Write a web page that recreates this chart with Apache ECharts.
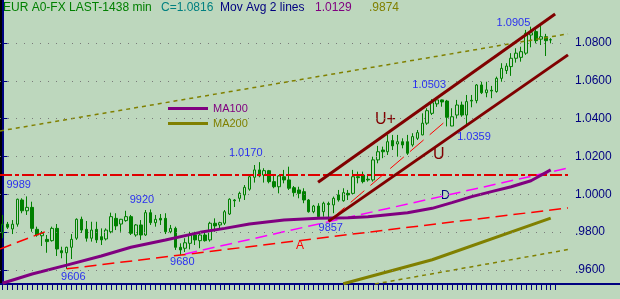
<!DOCTYPE html>
<html>
<head>
<meta charset="utf-8">
<script src="https://cdn.jsdelivr.net/npm/echarts@6.0.0/dist/echarts.min.js"></script>
<style>
html,body{margin:0;padding:0;background:#bdd7bd;overflow:hidden;}
#chart{width:620px;height:299px;}
</style>
</head>
<body>
<div id="chart"></div>
<script>
// ---------------- data (EUR A0-FX, daily bars) ----------------
const opens = [0.9797,0.9842,0.9817,0.9842,0.9970,0.9913,0.9931,0.9815,0.9781,0.9762,
0.9755,0.9820,0.9702,0.9691,0.9720,0.9768,0.9868,0.9815,0.9768,0.9815,
0.9776,0.9764,0.9802,0.9873,0.9843,0.9861,0.9882,0.9785,0.9838,0.9785,
0.9903,0.9850,0.9873,0.9873,0.9802,0.9820,0.9720,0.9715,0.9741,0.9785,
0.9755,0.9785,0.9759,0.9847,0.9838,0.9847,0.9896,0.9970,0.9979,0.9997,
1.0027,1.0090,1.0129,1.0102,1.0125,1.0067,1.0040,1.0093,1.0076,1.0035,
1.0023,1.0014,0.9970,0.9908,0.9938,0.9908,0.9951,0.9944,0.9997,0.9966,
1.0005,1.0005,1.0093,1.0102,1.0080,1.0076,1.0182,1.0234,1.0225,1.0284,
1.0266,1.0278,1.0278,1.0261,1.0296,1.0314,1.0376,1.0428,1.0478,1.0499,
1.0493,1.0361,1.0419,1.0472,1.0419,1.0497,1.0495,1.0578,1.0537,1.0550,
1.0543,1.0613,1.0654,1.0675,1.0719,1.0724,1.0746,1.0842,1.0860,1.0820,
1.0833,1.0817];
const closes = [0.9842,0.9826,0.9842,0.9974,0.9913,0.9931,0.9820,0.9785,0.9794,0.9750,
0.9820,0.9711,0.9691,0.9720,0.9762,0.9868,0.9811,0.9768,0.9811,0.9759,
0.9759,0.9811,0.9882,0.9833,0.9868,0.9882,0.9794,0.9838,0.9785,0.9903,
0.9850,0.9868,0.9864,0.9802,0.9820,0.9720,0.9706,0.9744,0.9785,0.9759,
0.9785,0.9755,0.9847,0.9833,0.9850,0.9908,0.9974,0.9966,1.0005,1.0037,
1.0093,1.0129,1.0097,1.0125,1.0067,1.0040,1.0097,1.0076,1.0032,1.0009,
1.0005,0.9970,0.9908,0.9938,0.9882,0.9953,0.9946,0.9979,0.9970,1.0009,
0.9997,1.0093,1.0088,1.0067,1.0076,1.0182,1.0225,1.0225,1.0278,1.0256,
1.0278,1.0261,1.0217,1.0305,1.0326,1.0376,1.0442,1.0484,1.0499,1.0488,
1.0407,1.0410,1.0472,1.0419,1.0490,1.0493,1.0578,1.0537,1.0552,1.0546,
1.0613,1.0666,1.0678,1.0719,1.0746,1.0754,1.0851,1.0854,1.0812,1.0833,
1.0812,1.0816];
const lows = [0.9768,0.9817,0.9790,0.9829,0.9900,0.9891,0.9802,0.9776,0.9727,0.9691,
0.9750,0.9674,0.9662,0.9606,0.9658,0.9759,0.9796,0.9750,0.9750,0.9743,
0.9732,0.9756,0.9794,0.9811,0.9802,0.9855,0.9785,0.9776,0.9759,0.9780,
0.9838,0.9829,0.9838,0.9790,0.9794,0.9706,0.9680,0.9695,0.9709,0.9732,
0.9715,0.9750,0.9750,0.9802,0.9820,0.9838,0.9891,0.9933,0.9961,0.9970,
1.0019,1.0062,1.0090,1.0062,1.0058,1.0032,1.0005,1.0058,1.0023,0.9988,
0.9979,0.9953,0.9903,0.9900,0.9873,0.9882,0.9857,0.9900,0.9961,0.9961,
0.9970,0.9997,1.0058,1.0058,1.0067,1.0067,1.0164,1.0191,1.0208,1.0234,
1.0199,1.0243,1.0208,1.0252,1.0287,1.0312,1.0367,1.0419,1.0462,1.0463,
1.0359,1.0360,1.0402,1.0410,1.0367,1.0460,1.0481,1.0530,1.0513,1.0508,
1.0537,1.0595,1.0636,1.0626,1.0696,1.0701,1.0737,1.0777,1.0798,1.0789,
1.0731,1.0798];
const highs = [0.9891,0.9854,0.9864,0.9977,0.9979,0.9989,0.9961,0.9829,0.9806,0.9785,
0.9829,0.9843,0.9723,0.9723,0.9790,0.9873,0.9882,0.9859,0.9855,0.9855,
0.9820,0.9820,0.9903,0.9900,0.9870,0.9913,0.9891,0.9843,0.9864,0.9917,
0.9920,0.9891,0.9896,0.9900,0.9838,0.9829,0.9741,0.9768,0.9802,0.9802,
0.9802,0.9811,0.9855,0.9873,0.9855,0.9917,0.9979,0.9975,1.0014,1.0049,
1.0102,1.0155,1.0170,1.0138,1.0129,1.0102,1.0102,1.0129,1.0146,1.0044,
1.0040,1.0032,0.9975,0.9944,0.9953,0.9961,0.9961,0.9988,1.0023,1.0032,
1.0023,1.0129,1.0120,1.0120,1.0102,1.0199,1.0256,1.0252,1.0314,1.0314,
1.0314,1.0296,1.0314,1.0323,1.0340,1.0428,1.0455,1.0503,1.0501,1.0501,
1.0499,1.0455,1.0499,1.0490,1.0525,1.0525,1.0583,1.0595,1.0595,1.0573,
1.0622,1.0693,1.0693,1.0746,1.0772,1.0780,1.0869,1.0886,1.0872,1.0905,
1.0848,1.0825];

// moving averages (key points: bar index, value)
const ma100Idx = [0,6,13,20,26,33,40,45,50,57,64,70,74,82,87,91,95,99,103,107,111];
const ma100Val = [0.9530,0.9579,0.9626,0.9674,0.9720,0.9759,0.9799,0.9820,0.9843,0.9864,0.9873,
                  0.9876,0.9882,0.9903,0.9926,0.9956,0.9988,1.0014,1.0040,1.0072,1.0129];
const ma200Idx = [69,87,111];
const ma200Val = [0.9527,0.9654,0.9874];

// drawn trend lines (bar index, value)
const chanUpperIdx = [63.9,111.9],  chanUpperVal = [1.0064,1.0953];   // U+
const chanLowerIdx = [66,114.5],    chanLowerVal = [0.9857,1.0737];   // U
const chanMidIdx   = [66.5,90],     chanMidVal   = [0.9868,1.0393];
const lineAIdx     = [13,114.5],    lineAVal     = [0.9606,0.9928];   // A
const lineLeftIdx  = [-0.5,9],      lineLeftVal  = [0.9711,0.9806];
const lineDIdx     = [37,114.5],    lineDVal     = [0.9685,1.0139];   // D
const resistIdx    = [-0.5,114.5],  resistVal    = [1.0102,1.0102];
const envUpIdx     = [-0.5,114.5],  envUpVal     = [1.0335,1.0848];
const envLoIdx     = [75.4,114.5],  envLoVal     = [0.9526,0.9708];

// swing annotations
const annIdx = [5,13,30,36,52,66,87,90,109];
const annVal = [0.9989,0.9606,0.9920,0.9680,1.0170,0.9857,1.0503,1.0359,1.0905];

const yTicks = [0.96,0.98,1.00,1.02,1.04,1.06,1.08];
const nSlots = 115;
const categories = Array.from({length:nSlots},(_,i)=>String(i+1));

// ---------------- styles ----------------
const FONT = "'Liberation Sans', Arial, sans-serif";
const BG = '#bdd7bd';
const NAVY = '#000080';
const annOffsets = [[-8.5,-11.7],[6.6,8.6],[-8.7,-9.8],[2,7.6],[-13.6,-9.2],[2.3,6.6],[-3,-14],[27,10.6],[-27.4,-0.6]];

function fmtAxis(v){ const s=v.toFixed(4); return v<1 ? s.replace(/^0/,'') : s; }
function fmtAnn(v){ const s=v.toFixed(4); return v<1 ? s.slice(2) : s; }
function pairs(xs, ys){ return xs.map((x,i)=>[x, ys[i]]); }
function trend(name, xs, ys, color, width, type, z){
  return {type:'line', name, xAxisIndex:1, yAxisIndex:0, data:pairs(xs,ys), symbol:'none',
          silent:true, animation:false, z:z||3, lineStyle:{color, width, type}};
}

const candleData = opens.map((o,i)=>[o, closes[i], lows[i], highs[i]]);
const lastClose = closes[closes.length-1];
const lastMa100 = ma100Val[ma100Val.length-1];
const lastMa200 = ma200Val[ma200Val.length-1];

const chart = echarts.init(document.getElementById('chart'), null, {renderer:'canvas'});

const option = {
  backgroundColor: BG,
  animation: false,
  textStyle: {fontFamily: FONT},
  grid: {left:0, right:52, top:0, bottom:15, containLabel:false},
  legend: {
    show:true, orient:'vertical', left:168, top:103, padding:0, itemGap:4,
    itemWidth:40, itemHeight:3, icon:'rect', selectedMode:false,
    textStyle:{fontSize:11, fontFamily:FONT},
    data:[{name:'MA100', textStyle:{color:'#800080'}}, {name:'MA200', textStyle:{color:'#808000'}}]
  },
  xAxis: [
    {type:'category', data:categories, boundaryGap:true,
     axisLine:{show:true, onZero:false, lineStyle:{color:NAVY, width:2}},
     axisTick:{show:true, alignWithLabel:true, length:6, lineStyle:{color:NAVY, width:1},
               interval:(i)=> i < 113},
     axisLabel:{show:false}, splitLine:{show:false}},
    {type:'value', min:-0.5, max:nSlots-0.5, show:false}
  ],
  yAxis: [{
    type:'value', position:'right', min:0.9526, max:1.1027, scale:true,
    axisLine:{show:true, lineStyle:{color:NAVY, width:2}},
    axisTick:{show:true, length:5, customValues:yTicks, lineStyle:{color:NAVY}},
    axisLabel:{show:true, customValues:yTicks, formatter:fmtAxis, color:NAVY, fontSize:12, margin:7, fontFamily:FONT},
    splitLine:{show:false}
  }],
  series: [
    {type:'line', name:'grid', data:[], silent:true, z:1,
     markLine:{silent:true, symbol:['none','none'], label:{show:false}, animation:false,
       lineStyle:{color:'#7a7a7a', type:[1,7], width:1},
       data: yTicks.map(v=>({yAxis:v}))}},
    {type:'candlestick', name:'EUR', data:candleData, barWidth:3, silent:true, z:2,
     itemStyle:{color:'rgba(0,0,0,0)', color0:'#008000', borderColor:'#008000', borderColor0:'#008000', borderWidth:1}},
    trend('envUp', envUpIdx, envUpVal, '#808000', 1.5, [4,4], 3),
    trend('envLo', envLoIdx, envLoVal, '#808000', 1.5, [4,4], 3),
    trend('resist', resistIdx, resistVal, '#e00000', 2, [12,3,4,3], 3),
    trend('lineLeft', lineLeftIdx, lineLeftVal, '#ff0000', 1.5, [12,6], 3),
    trend('lineA', lineAIdx, lineAVal, '#ff0000', 1.5, [12,6], 3),
    trend('lineD', lineDIdx, lineDVal, '#ff00ff', 1.5, [12,6], 3),
    trend('chanMid', chanMidIdx, chanMidVal, '#ff0000', 1, [18,8], 3),
    {type:'line', name:'MA100', xAxisIndex:1, data:pairs(ma100Idx, ma100Val), symbol:'none', silent:true, z:4,
     lineStyle:{color:'#800080', width:3}, itemStyle:{color:'#800080'}},
    {type:'line', name:'MA200', xAxisIndex:1, data:pairs(ma200Idx, ma200Val), symbol:'none', silent:true, z:4,
     lineStyle:{color:'#808000', width:3}, itemStyle:{color:'#808000'}},
    trend('chanUpper', chanUpperIdx, chanUpperVal, '#800000', 3, 'solid', 5),
    trend('chanLower', chanLowerIdx, chanLowerVal, '#800000', 3, 'solid', 5),
    {type:'scatter', name:'ann', silent:true, z:6, symbolSize:1, itemStyle:{color:'rgba(0,0,0,0)'},
     data: annIdx.map((x,i)=>({value:[x, annVal[i]],
       label:{show:true, position:'inside', offset:annOffsets[i], formatter:fmtAnn(annVal[i]),
              color:'#0000ff', fontSize:11, fontFamily:FONT}}))}
  ],
  graphic: [
    {type:'rect', left:0, top:0, shape:{x:0,y:0,width:2,height:285}, style:{fill:'#000000'}, silent:true},
    {type:'line', shape:{x1:568,y1:284,x2:620,y2:284}, style:{stroke:NAVY, lineWidth:2}, silent:true},
    {type:'text', x:3, y:8, style:{text:'EUR A0-FX LAST-1438 min', fill:'#008000', font:'12px '+FONT, verticalAlign:'middle'}},
    {type:'text', x:161, y:8, style:{text:'C='+lastClose.toFixed(4), fill:'#008080', font:'12px '+FONT, verticalAlign:'middle'}},
    {type:'text', x:220, y:8, style:{text:'Mov Avg 2 lines', fill:NAVY, font:'12px '+FONT, verticalAlign:'middle'}},
    {type:'text', x:315, y:8, style:{text:lastMa100.toFixed(4), fill:'#800080', font:'12px '+FONT, verticalAlign:'middle'}},
    {type:'text', x:369, y:8, style:{text:fmtAxis(lastMa200), fill:'#808000', font:'12px '+FONT, verticalAlign:'middle'}},
    {type:'text', x:375, y:120, style:{text:'U+', fill:'#800000', font:'16px '+FONT, verticalAlign:'middle'}},
    {type:'text', x:433, y:155, style:{text:'U', fill:'#800000', font:'16px '+FONT, verticalAlign:'middle'}},
    {type:'text', x:296, y:246, style:{text:'A', fill:'#ff0000', font:'12px '+FONT, verticalAlign:'middle'}},
    {type:'text', x:441, y:196, style:{text:'D', fill:NAVY, font:'12px '+FONT, verticalAlign:'middle'}}
  ]
};
chart.setOption(option);
</script>
</body>
</html>
